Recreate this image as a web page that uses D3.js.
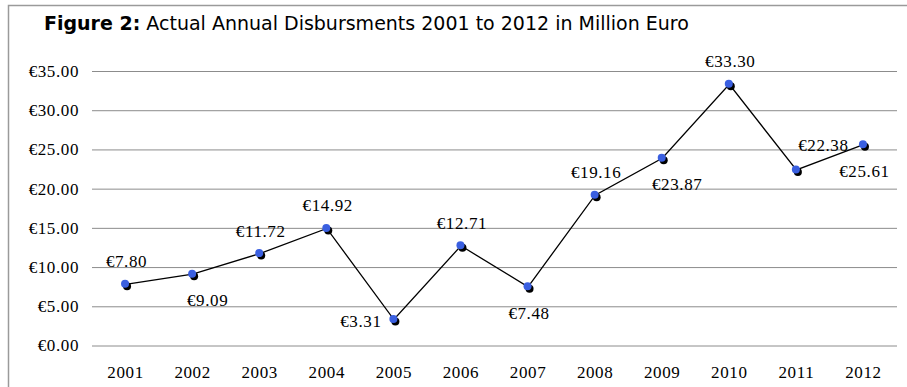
<!DOCTYPE html>
<html>
<head>
<meta charset="utf-8">
<script src="https://cdn.jsdelivr.net/npm/d3@7"></script>
<style>
  html, body { margin: 0; padding: 0; background: #fff; }
  svg { display: block; }
</style>
</head>
<body>
<svg id="chart" width="907" height="387"></svg>
<script>
// Annual disbursements, million euro
const years = ["2001","2002","2003","2004","2005","2006","2007","2008","2009","2010","2011","2012"];
const disbursements = [7.80, 9.09, 11.72, 14.92, 3.31, 12.71, 7.48, 19.16, 23.87, 33.30, 22.38, 25.61];
const yTicks = [0, 5, 10, 15, 20, 25, 30, 35];
// where each value label sits relative to its point
const labelPlacement = ["above","belowRight","above","above","left","above","below","above","belowRight","above","aboveRight","below"];

const svg = d3.select("#chart");
const plot = { left: 92, right: 897, top: 71, bottom: 345.5 };

const serif = "'Liberation Serif', 'Times New Roman', serif";
const serifSize = 17;
const serifSpacing = 0.6;

// outer frame (runs off the right and bottom edges)
svg.append("rect")
  .attr("x", 8.5).attr("y", 5.5)
  .attr("width", 1000).attr("height", 1000)
  .attr("fill", "none")
  .attr("stroke", "#9a9a9a")
  .attr("stroke-width", 1.5);

// title
const title = svg.append("text")
  .attr("x", 44).attr("y", 29.5)
  .attr("font-family", "'DejaVu Sans', Verdana, sans-serif")
  .attr("font-size", 19)
  .attr("fill", "#000");
title.append("tspan").attr("font-weight", "bold").text("Figure 2:");
title.append("tspan").text(" Actual Annual Disbursments 2001 to 2012 in Million Euro");

const x = d3.scaleBand().domain(years).range([plot.left, plot.right]);
const y = d3.scaleLinear().domain([0, 35]).range([plot.bottom, plot.top]);
const cx = d => x(d) + x.bandwidth() / 2;

function styleSerif(sel) {
  sel.attr("font-family", serif)
    .attr("font-size", serifSize)
    .attr("letter-spacing", serifSpacing)
    .attr("fill", "#000");
}

// horizontal gridlines + y labels
const yAxis = d3.axisLeft(y)
  .tickValues(yTicks)
  .tickSize(-(plot.right - plot.left))
  .tickPadding(13)
  .tickFormat(d => "€" + d3.format(".2f")(d));

const gy = svg.append("g")
  .attr("transform", `translate(${plot.left},0)`)
  .call(yAxis);
gy.select(".domain").remove();
gy.selectAll(".tick line").attr("stroke", "#8c8c8c").attr("stroke-width", 1);
gy.selectAll(".tick text").call(styleSerif);

// x labels
const xAxis = d3.axisBottom(x).tickSize(0).tickPadding(20);
const gx = svg.append("g")
  .attr("transform", `translate(0,${plot.bottom})`)
  .call(xAxis);
gx.select(".domain").remove();
gx.selectAll(".tick text").call(styleSerif);

const pts = years.map((yr, i) => ({ yr, v: disbursements[i], pos: labelPlacement[i] }));

// connecting line
const line = d3.line().x(d => cx(d.yr)).y(d => y(d.v));
svg.append("path")
  .datum(pts)
  .attr("d", line)
  .attr("fill", "none")
  .attr("stroke", "#000")
  .attr("stroke-width", 1.3);

// markers: dark shadow then blue dot
svg.append("g").selectAll("circle")
  .data(pts).join("circle")
  .attr("cx", d => cx(d.yr) + 1.5)
  .attr("cy", d => y(d.v) + 2)
  .attr("r", 4)
  .attr("fill", "#000");
svg.append("g").selectAll("circle")
  .data(pts).join("circle")
  .attr("cx", d => cx(d.yr) - 0.5)
  .attr("cy", d => y(d.v) - 0.5)
  .attr("r", 4)
  .attr("fill", "#3a5fe0");

// value labels
const offsets = {
  above:      { dx: 1,   dy: -23 },
  below:      { dx: 1,   dy: 26 },
  belowRight: { dx: 15,  dy: 26 },
  aboveRight: { dx: 27,  dy: -25 },
  left:       { dx: -33, dy: 1.5 }
};
svg.append("g").selectAll("text")
  .data(pts).join("text")
  .attr("x", d => cx(d.yr) + offsets[d.pos].dx)
  .attr("y", d => y(d.v) + offsets[d.pos].dy)
  .attr("dy", "0.35em")
  .attr("text-anchor", "middle")
  .call(styleSerif)
  .text(d => "€" + d3.format(".2f")(d.v));
</script>
</body>
</html>
